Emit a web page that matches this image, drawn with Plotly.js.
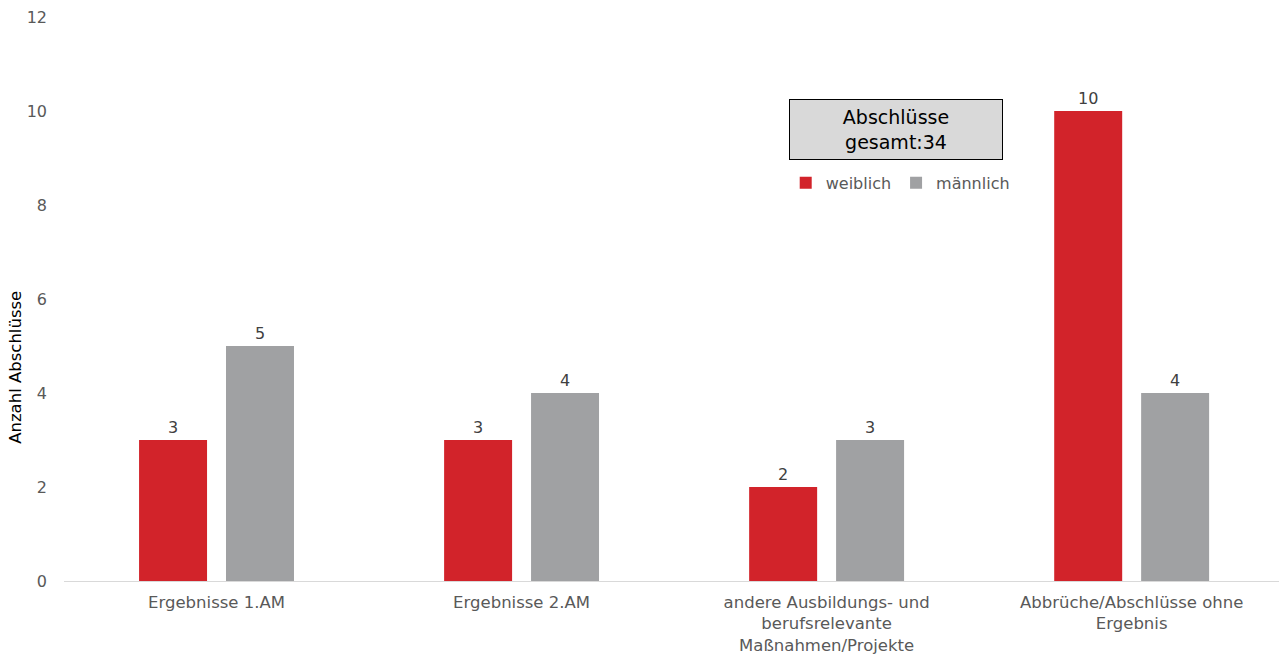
<!DOCTYPE html>
<html>
<head>
<meta charset="utf-8">
<script src="https://cdn.plot.ly/plotly-3.0.1.min.js"></script>
<style>html,body{margin:0;padding:0;background:#fff;}#chart{width:1279px;height:660px;}</style>
</head>
<body>
<div id="chart"></div>
<script>
const categories = ["Ergebnisse 1.AM", "Ergebnisse 2.AM", "andere Ausbildungs- und<br>berufsrelevante<br>Maßnahmen/Projekte", "Abbrüche/Abschlüsse ohne<br>Ergebnis"];
const weiblich = [3, 3, 2, 10];
const maennlich = [5, 4, 3, 4];
const seriesNames = ["weiblich", "männlich"];
const totalLabel = "Abschlüsse<br>gesamt:34";
const yTitle = "Anzahl Abschlüsse";
const yTicks = [0, 2, 4, 6, 8, 10, 12];

const font = "DejaVu Sans, Verdana, sans-serif";
const traces = [
  {type: "bar", name: seriesNames[0], x: categories, y: weiblich, marker: {color: "#d2232a"},
   text: weiblich.map(String), textposition: "outside", cliponaxis: false,
   textfont: {family: font, size: 16, color: "#404040"}, hoverinfo: "y"},
  {type: "bar", name: seriesNames[1], x: categories, y: maennlich, marker: {color: "#a0a1a3"},
   text: maennlich.map(String), textposition: "outside", cliponaxis: false,
   textfont: {family: font, size: 16, color: "#404040"}, hoverinfo: "y"}
];
const layout = {
  width: 1279, height: 660,
  margin: {l: 64, r: 0, t: 17, b: 79},
  paper_bgcolor: "#fff", plot_bgcolor: "#fff",
  font: {family: font, size: 16, color: "#595959"},
  barmode: "group", bargap: 0.43, bargroupgap: 0.218,
  xaxis: {type: "category", range: [-0.5, 3.483], showline: true, linecolor: "#d9d9d9", linewidth: 1,
          showgrid: false, zeroline: false, ticks: "", ticklabelstandoff: 6,
          tickfont: {family: font, size: 16.5, color: "#595959"}},
  yaxis: {range: [0, 12], tickvals: yTicks, showgrid: false, zeroline: false, showline: false,
          ticks: "", ticklabelstandoff: 16, tickfont: {family: font, size: 16, color: "#595959"}},
  showlegend: true,
  legend: {orientation: "h", x: 0.594, xanchor: "left", y: 0.706, yanchor: "middle",
           font: {family: font, size: 16, color: "#595959"}, bgcolor: "rgba(0,0,0,0)",
           itemwidth: 30, tracegroupgap: 0},
  annotations: [
    {xref: "paper", yref: "paper", x: 0.685, y: 0.80, xanchor: "center", yanchor: "middle",
     text: totalLabel, showarrow: false,
     font: {family: font, size: 19, color: "#000"}, bgcolor: "#d9d9d9", bordercolor: "#000",
     borderwidth: 1, width: 210, height: 57, align: "center"},
    {xref: "paper", yref: "paper", x: -0.0395, y: 0.378, xanchor: "center", yanchor: "middle",
     text: yTitle, textangle: -90, showarrow: false,
     font: {family: font, size: 16.5, color: "#000"}}
  ]
};
Plotly.newPlot("chart", traces, layout, {displayModeBar: false, staticPlot: true});
</script>
</body>
</html>
